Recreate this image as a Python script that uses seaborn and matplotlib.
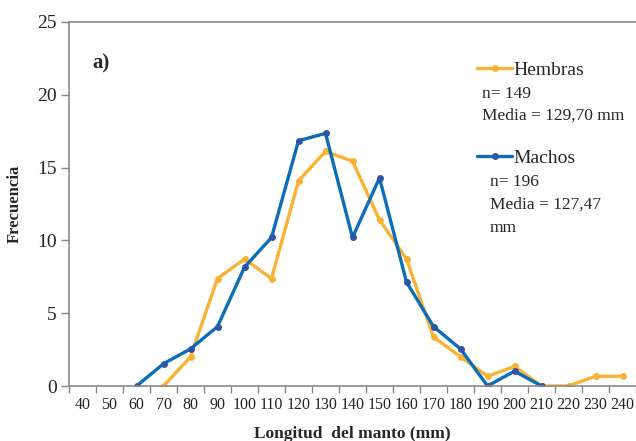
import numpy as np
import pandas as pd
import matplotlib
matplotlib.use("Agg")
import matplotlib.pyplot as plt
from matplotlib.lines import Line2D
import seaborn as sns

# Size classes of mantle length (mm)
longitud = [40, 50, 60, 70, 80, 90, 100, 110, 120, 130, 140, 150, 160, 170,
            180, 190, 200, 210, 220, 230, 240]

# Relative frequency (%) per size class
hembras = [np.nan, np.nan, np.nan, 0.0, 2.01, 7.38, 8.72, 7.38, 14.09, 16.11,
           15.44, 11.41, 8.72, 3.36, 2.01, 0.67, 1.34, 0.0, 0.0, 0.67, 0.67]
machos = [np.nan, np.nan, 0.0, 1.53, 2.55, 4.08, 8.16, 10.20, 16.84, 17.35,
          10.20, 14.29, 7.14, 4.08, 2.55, 0.0, 1.02, 0.0, np.nan, np.nan, np.nan]

series_names = ["Hembras", "Machos"]
n_values = ["n= 149", "n= 196"]
medias = ["Media = 129,70 mm", "Media = 127,47\nmm"]

col_h = "#F9B233"
col_m = "#0A6EB8"
mk_m = "#2E55A3"

sns.set_theme(style="white")
plt.rcParams["font.family"] = ["Liberation Serif", "DejaVu Serif"]

df = pd.DataFrame({
    "Longitud": longitud * 2,
    "Frecuencia": hembras + machos,
    "Sexo": ["Hembras"] * len(longitud) + ["Machos"] * len(longitud),
}).dropna()

fig = plt.figure(figsize=(6.36, 4.41), dpi=100)
ax = fig.add_axes([0.1085, 0.1247, 0.8915, 0.8255])

sns.lineplot(data=df[df.Sexo == "Hembras"], x="Longitud", y="Frecuencia",
             color=col_h, lw=2.4, marker="o", markersize=5,
             markeredgewidth=0, ax=ax)
sns.lineplot(data=df[df.Sexo == "Machos"], x="Longitud", y="Frecuencia",
             color=col_m, lw=2.4, marker="o", markersize=5,
             markerfacecolor=mk_m, markeredgewidth=0, ax=ax)

ax.set_xlim(35, 245)
ax.set_ylim(0, 25)
ax.set_xticks(longitud)
ax.set_xticklabels([str(v) for v in longitud], fontsize=11.5, color="#222222")
ax.set_xticks(np.arange(35, 250, 10), minor=True)
ax.set_yticks([0, 5, 10, 15, 20, 25])
ax.set_yticklabels(["0", "5", "10", "15", "20", "25"], fontsize=14, color="#222222")
ax.tick_params(axis="x", which="major", length=0, pad=8)
ax.tick_params(axis="x", which="minor", length=5, width=1, color="#888888",
               direction="out", bottom=True)
ax.tick_params(axis="y", which="major", length=6, width=1, color="#888888",
               direction="out", left=True, pad=3)

for side in ["left", "bottom", "top"]:
    ax.spines[side].set_visible(True)
    ax.spines[side].set_color("#8a8a8a")
    ax.spines[side].set_linewidth(1.2)
ax.spines["right"].set_visible(False)

ax.set_xlabel("Longitud  del manto (mm)", fontsize=12.5, fontweight="bold",
              labelpad=9)
ax.set_ylabel("Frecuencia", fontsize=12, fontweight="bold", labelpad=10)

ax.text(0.042, 0.885, "a)", transform=ax.transAxes, fontsize=15,
        fontweight="bold", va="center", ha="left")

# Legend blocks with sample sizes and means
h_handle = Line2D([], [], color=col_h, lw=2.4, marker="o", markersize=5,
                  markeredgewidth=0)
m_handle = Line2D([], [], color=col_m, lw=2.4, marker="o", markersize=5,
                  markerfacecolor=mk_m, markeredgewidth=0)
leg1 = ax.legend([h_handle], [series_names[0]], loc="center left",
                 bbox_to_anchor=(0.72, 0.867), frameon=False, fontsize=14,
                 handlelength=1.8, handletextpad=0.05, borderpad=0,
                 borderaxespad=0)
ax.add_artist(leg1)
ax.legend([m_handle], [series_names[1]], loc="center left",
          bbox_to_anchor=(0.72, 0.627), frameon=False, fontsize=14,
          handlelength=1.8, handletextpad=0.05, borderpad=0, borderaxespad=0)

ax.text(0.729, 0.802, n_values[0], transform=ax.transAxes, fontsize=12.5,
        va="center", ha="left")
ax.text(0.729, 0.742, medias[0], transform=ax.transAxes, fontsize=12.5,
        va="center", ha="left")
ax.text(0.742, 0.561, n_values[1], transform=ax.transAxes, fontsize=12.5,
        va="center", ha="left")
ax.text(0.742, 0.52, medias[1], transform=ax.transAxes, fontsize=12.5,
        va="top", ha="left", linespacing=1.6)

fig.savefig("out.png", dpi=100)
